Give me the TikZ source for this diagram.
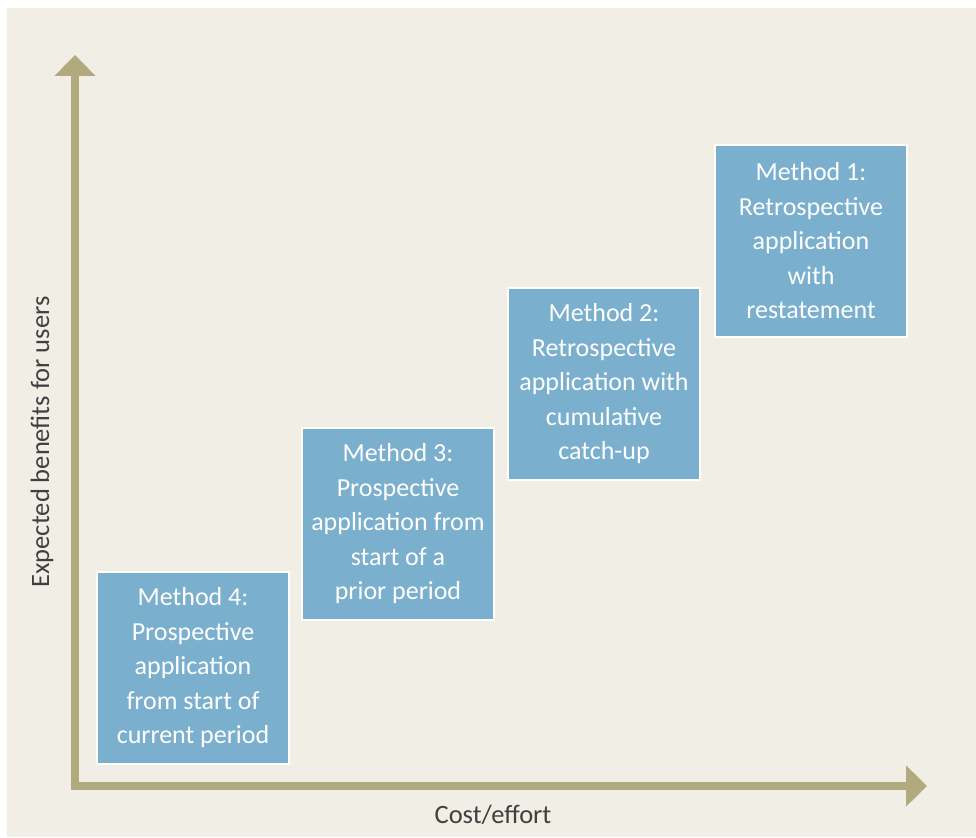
\documentclass[tikz,border=0pt]{standalone}
\usepackage{fontspec}
\setmainfont{Carlito}
\usetikzlibrary{arrows.meta}
\definecolor{paper}{HTML}{F1EEE6}
\definecolor{axiscol}{HTML}{B0AA7E}
\definecolor{methodblue}{HTML}{7BAFCE}
\tikzset{
  method/.style={draw=white, line width=2pt, fill=methodblue, text=white,
    minimum width=192pt, minimum height=192pt, align=center, inner sep=0pt,
    font=\fontsize{26}{34.5}\selectfont},
  axislabel/.style={font=\fontsize{26.5}{30}\selectfont, text=black!75}
}
\begin{document}
\begin{tikzpicture}[x=1pt,y=-1pt]
\useasboundingbox (0,0) rectangle (976,837);
\fill[white] (0,0) rectangle (976,837);
\fill[paper] (7,8) rectangle (976,837);
\coordinate (O) at (75,786);
\coordinate (Ytip) at (75,55);
\coordinate (Xtip) at (927,786);
\draw[axiscol, line width=8pt, line join=miter,
  {Triangle[width=40pt,length=21pt]}-{Triangle[width=40pt,length=21pt]}]
  (Ytip) |- (Xtip);
\node[axislabel, rotate=90] (ylab) at (42,442) {Expected benefits for users};
\node[axislabel] (xlab) at (493,815) {Cost/effort};
\node[method] (m4) at (193,668) {Method 4:\\Prospective\\application\\from start of\\current period};
\node[method] (m3) at (398,524) {Method 3:\\Prospective\\application from\\start of a\\prior period};
\node[method] (m2) at (604,384) {Method 2:\\Retrospective\\application with\\cumulative\\catch-up};
\node[method] (m1) at (811,241) {Method 1:\\Retrospective\\application\\with\\restatement};
\end{tikzpicture}
\end{document}
